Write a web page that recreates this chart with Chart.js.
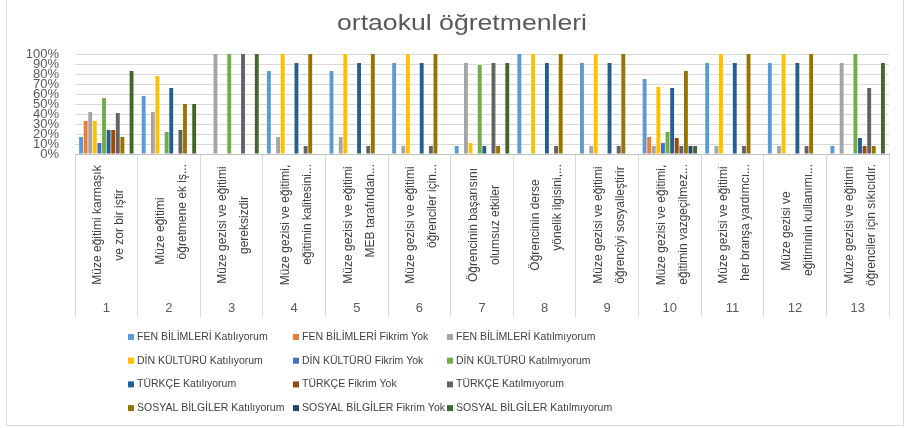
<!DOCTYPE html>
<html>
<head>
<meta charset="utf-8">
<script src="https://cdn.jsdelivr.net/npm/chart.js@4.4.1/dist/chart.umd.min.js"></script>
<style>
  html, body { margin: 0; padding: 0; background: #ffffff; }
  canvas { display: block; }
</style>
</head>
<body>
<canvas id="c" width="909" height="428"></canvas>
<script>
// ---- data ----
const groupNumbers = ['1','2','3','4','5','6','7','8','9','10','11','12','13'];
const categoryLines = [
  ['Müze eğitimi karmaşık', 've zor bir iştir'],
  ['Müze eğitimi', 'öğretmene ek iş...'],
  ['Müze gezisi ve eğitimi', 'gereksizdir'],
  ['Müze gezisi ve eğitimi,', 'eğitimin kalitesini...'],
  ['Müze gezisi ve eğitimi', 'MEB tarafından...'],
  ['Müze gezisi ve eğitimi', 'öğrenciler için...'],
  ['Öğrencinin başarısını', 'olumsuz etkiler'],
  ['Öğrencinin derse', 'yönelik ilgisini,...'],
  ['Müze gezisi ve eğitimi', 'öğrenciyi sosyalleştirir'],
  ['Müze gezisi ve eğitimi,', 'eğitimin vazgeçilmez...'],
  ['Müze gezisi ve eğitimi', 'her branşa yardımcı...'],
  ['Müze gezisi ve', 'eğitiminin kullanımı...'],
  ['Müze gezisi ve eğitimi', 'öğrenciler için sıkıcıdır.']
];
const seriesNames = [
  'FEN BİLİMLERİ Katılıyorum', 'FEN BİLİMLERİ Fikrim Yok', 'FEN BİLİMLERİ Katılmıyorum',
  'DİN KÜLTÜRÜ Katılıyorum', 'DİN KÜLTÜRÜ Fikrim Yok', 'DİN KÜLTÜRÜ Katılmıyorum',
  'TÜRKÇE Katılıyorum', 'TÜRKÇE Fikrim Yok', 'TÜRKÇE Katılmıyorum',
  'SOSYAL BİLGİLER Katılıyorum', 'SOSYAL BİLGİLER Fikrim Yok', 'SOSYAL BİLGİLER Katılmıyorum'
];
const fenKat            = [17, 58,   0, 83, 83,  91,  8, 100,  91, 75,  91,  91,   8];
const fenFikrim         = [33,  0,   0,  0,  0,   0,  0,   0,   0, 17,   0,   0,   0];
const fenKatilmiyorum   = [42, 42, 100, 17, 17,   8, 91,   0,   8,  8,   8,   8,  91];
const dinKat            = [33, 78,   0,100,100, 100, 11, 100, 100, 67, 100, 100,   0];
const dinFikrim         = [11,  0,   0,  0,  0,   0,  0,   0,   0, 11,   0,   0,   0];
const dinKatilmiyorum   = [56, 22, 100,  0,  0,   0, 89,   0,   0, 22,   0,   0, 100];
const turkceKat         = [24, 66,   0, 91, 91,  91,  8,  91,  91, 66,  91,  91,  16];
const turkceFikrim      = [24,  0,   0,  0,  0,   0,  0,   0,   0, 16,   0,   0,   8];
const turkceKatilmiyorum= [41, 24, 100,  8,  8,   8, 91,   8,   8,  8,   8,   8,  66];
const sosyalKat         = [17, 50,   0,100,100, 100,  8, 100, 100, 83, 100, 100,   8];
const sosyalFikrim      = [ 0,  0,   0,  0,  0,   0,  0,   0,   0,  8,   0,   0,   0];
const sosyalKatilmiyorum= [83, 50, 100,  0,  0,   0, 91,   0,   0,  8,   0,   0,  91];
const yTicks = [0,10,20,30,40,50,60,70,80,90,100];

const seriesValues = [fenKat, fenFikrim, fenKatilmiyorum, dinKat, dinFikrim, dinKatilmiyorum,
  turkceKat, turkceFikrim, turkceKatilmiyorum, sosyalKat, sosyalFikrim, sosyalKatilmiyorum];
const seriesColors = ['#5B9BD5','#ED7D31','#A5A5A5','#FFC000','#4472C4','#70AD47',
  '#255E91','#9E480E','#636363','#997300','#264478','#43682B'];

const FONT = '"Liberation Sans", Arial, sans-serif';
const TXT = '#595959';

const datasets = seriesNames.map((n, i) => ({
  label: n,
  data: seriesValues[i],
  backgroundColor: seriesColors[i],
  borderWidth: 0,
  categoryPercentage: 0.88,
  barPercentage: 0.85
}));

const decor = {
  id: 'decor',
  afterDraw(chart) {
    const ctx = chart.ctx;
    const xs = chart.scales.x;
    ctx.save();
    // outer frame
    ctx.strokeStyle = '#d9d9d9';
    ctx.lineWidth = 1;
    ctx.beginPath();
    ctx.moveTo(6.5, 0); ctx.lineTo(6.5, 425.5); ctx.lineTo(903.5, 425.5); ctx.lineTo(903.5, 0);
    ctx.stroke();

    // title
    ctx.fillStyle = TXT;
    ctx.font = '22px ' + FONT;
    const title = 'ortaokul öğretmenleri';
    const tw = ctx.measureText(title).width;
    const sx = 250 / tw;
    ctx.save();
    ctx.translate(462, 30);
    ctx.scale(sx, 1);
    ctx.textAlign = 'center';
    ctx.textBaseline = 'alphabetic';
    ctx.fillText(title, 0, 0);
    ctx.restore();

    // category labels (rotated) and group numbers
    ctx.font = '12px ' + FONT;
    ctx.fillStyle = '#404040';
    categoryLines.forEach((lines, i) => {
      const cx = xs.getPixelForValue(i);
      lines.forEach((t, j) => {
        const x = cx - 8.5 + j * 22;
        ctx.save();
        ctx.textBaseline = 'middle';
        if (t.endsWith('...')) {
          ctx.translate(x, 164);
          ctx.rotate(-Math.PI / 2);
          ctx.textAlign = 'right';
        } else {
          const w = ctx.measureText(t).width;
          ctx.translate(x, w < 80 && j === 0 ? 231 : 225);
          ctx.rotate(-Math.PI / 2);
          ctx.textAlign = 'center';
        }
        ctx.fillText(t, 0, 0);
        ctx.restore();
      });
    });
    ctx.fillStyle = TXT;
    ctx.font = '13px ' + FONT;
    ctx.textAlign = 'center';
    ctx.textBaseline = 'middle';
    groupNumbers.forEach((g, i) => {
      ctx.fillText(g, xs.getPixelForValue(i), 308);
    });

    // legend grid (3 columns x 4 rows)
    const colX = [128, 293, 447];
    ctx.font = '10.5px ' + FONT;
    ctx.textAlign = 'left';
    chart.data.datasets.forEach((ds, i) => {
      const r = Math.floor(i / 3), c = i % 3;
      const y = 337 + r * 23.7;
      ctx.fillStyle = ds.backgroundColor;
      ctx.fillRect(colX[c], y - 3, 6, 6);
      ctx.fillStyle = '#404040';
      ctx.fillText(ds.label, colX[c] + 9, y);
    });
    ctx.restore();
  }
};

new Chart(document.getElementById('c'), {
  type: 'bar',
  data: { labels: groupNumbers, datasets },
  options: {
    responsive: false,
    animation: false,
    layout: { padding: { top: 54, right: 20, left: 0, bottom: 0 } },
    plugins: {
      legend: { display: false },
      title: { display: false },
      tooltip: { enabled: false }
    },
    scales: {
      x: {
        ticks: { display: false },
        grid: { offset: true, drawOnChartArea: false, drawTicks: true, tickLength: 163, color: '#d9d9d9', lineWidth: 1 },
        border: { display: true, color: '#bfbfbf' },
        afterFit: s => { s.height = 274; }
      },
      y: {
        min: 0, max: 100,
        afterBuildTicks: s => { s.ticks = yTicks.map(v => ({ value: v })); },
        ticks: {
          autoSkip: false,
          callback: v => v + '%',
          color: TXT,
          font: { family: FONT, size: 13 },
          padding: 16
        },
        grid: { color: '#d9d9d9', drawTicks: false },
        border: { display: false },
        afterFit: s => { s.width = 75; }
      }
    }
  },
  plugins: [decor]
});
</script>
</body>
</html>
